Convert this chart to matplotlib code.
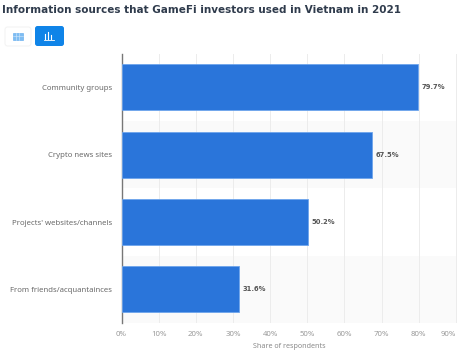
import matplotlib
matplotlib.use("Agg")
import matplotlib.pyplot as plt
from matplotlib.patches import FancyBboxPatch, Rectangle

categories = ["Community groups", "Crypto news sites", "Projects' websites/channels", "From friends/acquantainces"]
shares = [79.7, 67.5, 50.2, 31.6]
ticks = [0, 10, 20, 30, 40, 50, 60, 70, 80, 90]

W, H = 469, 359
BLUE = "#2a75da"

plt.rcParams['font.family'] = ['Noto Sans', 'DejaVu Sans']

fig = plt.figure(figsize=(W / 100, H / 100), dpi=100)

# axes box in pixels of the reference
left, right, top, bottom = 121.5, 457, 53.7, 323
ax = fig.add_axes([left / W, 1 - bottom / H, (right - left) / W, (bottom - top) / H])

# alternating row stripes
for i in range(len(categories)):
    if i % 2 == 1:
        ax.axhspan(i - 0.5, i + 0.5, color="#fafafa", lw=0, zorder=0)

ax.barh(range(len(categories)), shares, height=0.68, color=BLUE, edgecolor="#6ea5ec", linewidth=0.6, zorder=3)
for i, v in enumerate(shares):
    ax.text(v + 1, i, f"{v}%", va="center", ha="left", fontsize=4.9, fontweight="bold",
            color="#555555", family="DejaVu Sans")

ax.set_xlim(0, 90.3)
ax.set_ylim(len(categories) - 0.5, -0.5)
ax.set_xticks(ticks)
ax.set_xticklabels([f"{t}%" for t in ticks], fontsize=5.6, color="#9a9a9a")
# last label sits left of its gridline
ax.get_xticklabels()[-1].set_ha("right")
ax.get_xticklabels()[-1].set_x(90)
ax.tick_params(axis="both", length=0)
ax.tick_params(axis="x", pad=6)
ax.set_yticks(range(len(categories)))
ax.set_yticklabels(categories, fontsize=5.6, color="#6a6a6a")
ax.tick_params(axis="y", pad=7)
ax.xaxis.grid(True, color="#ececec", lw=0.7, zorder=1)
ax.set_axisbelow(True)
for s in ["top", "right", "bottom"]:
    ax.spines[s].set_visible(False)
ax.spines["left"].set_color("#777777")
ax.spines["left"].set_linewidth(1.0)
ax.set_xlabel("Share of respondents", fontsize=5.2, color="#8a8a8a", labelpad=3.5)

fig.text(2 / W, 1 - 10 / H, "Information sources that GameFi investors used in Vietnam in 2021",
         fontsize=7.5, fontweight="bold", color="#2f3b4c", va="center", ha="left", family="DejaVu Sans")

# the two toggle buttons top left
overlay = fig.add_axes([0, 0, 1, 1], facecolor="none")
overlay.set_xlim(0, W)
overlay.set_ylim(H, 0)
overlay.axis("off")
overlay.add_patch(FancyBboxPatch((5, 27), 26, 19, boxstyle="round,pad=0,rounding_size=2.5",
                                 fc="white", ec="#f0f0f0", lw=0.6))
overlay.add_patch(FancyBboxPatch((35, 26), 29, 20, boxstyle="round,pad=0,rounding_size=2.5",
                                 fc="#0f84e8", ec="none"))
# table icon
overlay.add_patch(Rectangle((13, 32.5), 9.5, 7, fc="#7fbdf2", ec="#5aa8ee", lw=0.4))
for x in [16.2, 19.4]:
    overlay.plot([x, x], [32.5, 39.5], color="#d5e9fb", lw=0.4)
overlay.plot([13, 22.5], [36, 36], color="#d5e9fb", lw=0.4)
# bar icon
for x, y0 in zip([45, 48, 51], [34, 32, 35]):
    overlay.plot([x, x], [y0, 39], color="white", lw=0.8)
overlay.plot([43.5, 54], [39.5, 39.5], color="white", lw=0.6)

fig.savefig("out.png", dpi=100)
